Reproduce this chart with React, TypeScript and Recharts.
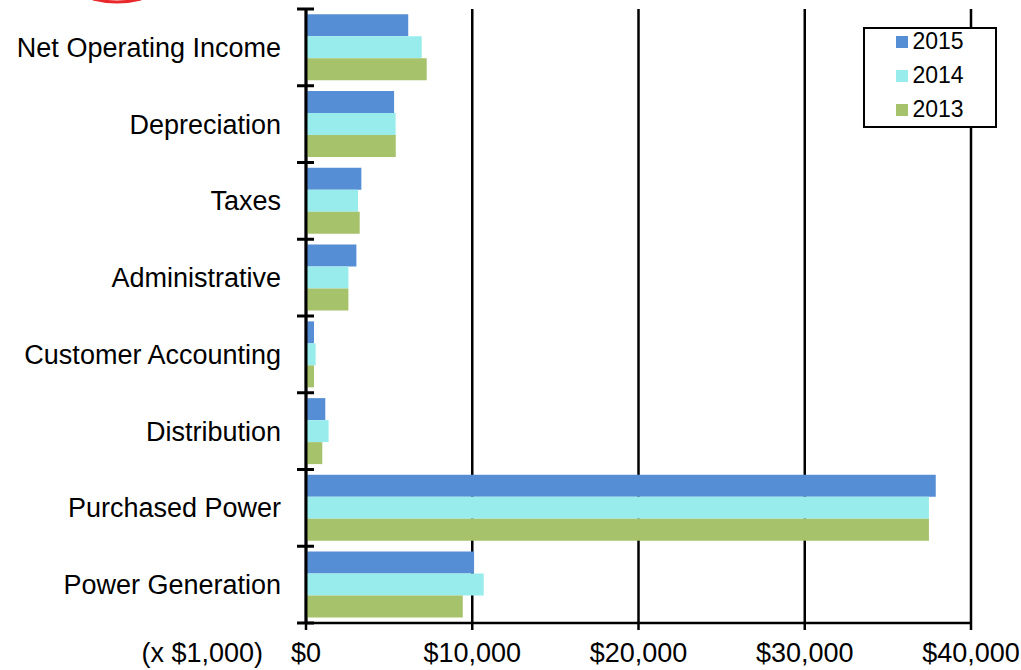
import React from 'react';
import { Bar, BarChart, CartesianGrid, Customized, Legend, XAxis, YAxis } from 'recharts';

// Operating expense breakdown, values in $1,000
const CATEGORIES = [
  'Net Operating Income',
  'Depreciation',
  'Taxes',
  'Administrative',
  'Customer Accounting',
  'Distribution',
  'Purchased Power',
  'Power Generation',
];
const VALUES_2015 = [6150, 5300, 3330, 3030, 480, 1160, 37880, 10110];
const VALUES_2014 = [6960, 5390, 3130, 2550, 580, 1360, 37470, 10690];
const VALUES_2013 = [7260, 5400, 3230, 2550, 480, 980, 37470, 9430];
const SERIES_ORDER = ['2015', '2014', '2013'];
const X_TICKS = [0, 10000, 20000, 30000, 40000];

const data = CATEGORIES.map((name, i) => ({
  name,
  y2015: VALUES_2015[i],
  y2014: VALUES_2014[i],
  y2013: VALUES_2013[i],
}));

const WIDTH = 1021;
const HEIGHT = 670;
const MARGIN = { top: 9, right: 50, bottom: 0, left: 0 };
const Y_AXIS_WIDTH = 306;
const X_AXIS_HEIGHT = 47;
const PLOT_H = HEIGHT - MARGIN.top - MARGIN.bottom - X_AXIS_HEIGHT;
const BAND = PLOT_H / CATEGORIES.length;
const FONT = '"Liberation Sans", Arial, sans-serif';

const formatMoney = (v: number) => '$' + v.toLocaleString('en-US');

function CategoryTick(props: any) {
  const { x, y, payload } = props;
  const axisX = x + 25;
  const isLast = payload.value === CATEGORIES[CATEGORIES.length - 1];
  return (
    <g>
      <line x1={axisX - 9} x2={axisX + 8} y1={y - BAND / 2} y2={y - BAND / 2} stroke="#000" strokeWidth={3} />
      {isLast && (
        <line x1={axisX - 9} x2={axisX + 8} y1={y + BAND / 2} y2={y + BAND / 2} stroke="#000" strokeWidth={3} />
      )}
      <text x={x} y={y} dy="0.35em" textAnchor="end" fill="#000" fontSize={27} fontFamily={FONT}>
        {payload.value}
      </text>
    </g>
  );
}

function LegendBox({ payload }: any) {
  const items = [...(payload || [])].sort(
    (a: any, b: any) => SERIES_ORDER.indexOf(a.value) - SERIES_ORDER.indexOf(b.value)
  );
  return (
    <div
      style={{
        position: 'relative',
        width: 134,
        height: 101,
        boxSizing: 'border-box',
        border: '2.5px solid #000',
        background: '#fff',
        fontFamily: FONT,
        fontSize: 23,
        color: '#000',
      }}
    >
      {items.map((entry: any, i: number) => (
        <div
          key={entry.value}
          style={{
            position: 'absolute',
            left: 30.5,
            top: 12.5 + i * 34 - 17,
            height: 34,
            display: 'flex',
            alignItems: 'center',
          }}
        >
          <span style={{ width: 12, height: 12, background: entry.color, marginRight: 5 }} />
          <span>{entry.value}</span>
        </div>
      ))}
    </div>
  );
}

function UnitLabel() {
  return (
    <text
      x={Y_AXIS_WIDTH - 43}
      y={HEIGHT - X_AXIS_HEIGHT + 20}
      dy="0.71em"
      textAnchor="end"
      fill="#000"
      fontSize={27}
      fontFamily={FONT}
    >
      (x $1,000)
    </text>
  );
}

export default function App() {
  return (
    <div style={{ position: 'absolute', left: 0, top: 0, width: WIDTH, height: HEIGHT, background: '#fff' }}>
      <svg width={200} height={10} style={{ position: 'absolute', left: 0, top: 0 }}>
        <path d="M 93 -1 Q 117 5 141 -1" stroke="#e8282b" strokeWidth={3} fill="none" />
      </svg>
      <BarChart
        width={WIDTH}
        height={HEIGHT}
        data={data}
        layout="vertical"
        margin={MARGIN}
        barCategoryGap="7%"
        barGap={0}
      >
        <CartesianGrid horizontal={false} vertical stroke="#000" strokeWidth={2.5} />
        <XAxis
          type="number"
          domain={[0, 40000]}
          ticks={X_TICKS}
          height={X_AXIS_HEIGHT}
          tickFormatter={formatMoney}
          axisLine={{ stroke: '#000', strokeWidth: 2.5 }}
          tickLine={{ stroke: '#000', strokeWidth: 2.5 }}
          tickSize={7}
          tickMargin={13}
          tick={{ fill: '#000', fontSize: 27, fontFamily: FONT }}
          interval={0}
        />
        <YAxis
          type="category"
          dataKey="name"
          width={Y_AXIS_WIDTH}
          axisLine={{ stroke: '#000', strokeWidth: 3 }}
          tickLine={false}
          tickSize={0}
          tickMargin={25}
          tick={<CategoryTick />}
          interval={0}
        />
        <Legend
          layout="vertical"
          align="center"
          verticalAlign="middle"
          content={<LegendBox />}
          wrapperStyle={{ left: 863, top: 27, width: 134, height: 101 }}
        />
        <Bar dataKey="y2015" name="2015" fill="#558ed5" isAnimationActive={false} />
        <Bar dataKey="y2014" name="2014" fill="#98ecec" isAnimationActive={false} />
        <Bar dataKey="y2013" name="2013" fill="#a6c26a" isAnimationActive={false} />
        <Customized component={<UnitLabel />} />
      </BarChart>
    </div>
  );
}
